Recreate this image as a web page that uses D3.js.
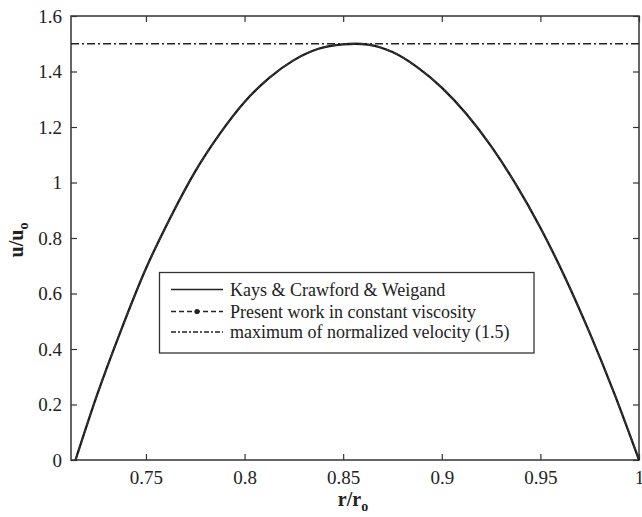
<!DOCTYPE html>
<html>
<head>
<meta charset="utf-8">
<script src="https://cdn.jsdelivr.net/npm/d3@7"></script>
<style>
  html, body { margin: 0; padding: 0; background: #fff; }
  svg { display: block; }
</style>
</head>
<body>
<svg id="chart" width="642" height="517"></svg>
<script>
// ---- Data ----
const rValues = [0.7143, 0.725, 0.7375, 0.75, 0.7625, 0.775, 0.7875, 0.80, 0.8125, 0.825, 0.8375, 0.85, 0.856, 0.8625, 0.875, 0.8875, 0.90, 0.9125, 0.925, 0.9375, 0.95, 0.9625, 0.975, 0.9875, 1.0];
const kaysValues = [0, 0.23, 0.47, 0.69, 0.875, 1.04, 1.176, 1.29, 1.377, 1.441, 1.482, 1.498, 1.500, 1.497, 1.47, 1.416, 1.342, 1.247, 1.131, 0.994, 0.837, 0.658, 0.458, 0.239, 0];
const presentValues = [0, 0.23, 0.47, 0.69, 0.874, 1.04, 1.175, 1.29, 1.377, 1.441, 1.482, 1.498, 1.500, 1.497, 1.47, 1.416, 1.342, 1.247, 1.131, 0.994, 0.837, 0.658, 0.458, 0.239, 0];
const maxVelocity = 1.5;
const xTicks = [0.75, 0.8, 0.85, 0.9, 0.95, 1];
const yTicks = [0, 0.2, 0.4, 0.6, 0.8, 1, 1.2, 1.4, 1.6];
const legendLabels = ["Kays & Crawford & Weigand", "Present work in constant viscosity", "maximum of normalized velocity (1.5)"];

// ---- Layout ----
(function () {
const FONT = "'Liberation Serif', 'Times New Roman', Times, 'Nimbus Roman', 'DejaVu Serif', serif";
const svg = d3.select("#chart");
const pL = 71, pR = 639, pT = 16, pB = 460;
const x = d3.scaleLinear().domain([0.712, 1]).range([pL, pR]);
const y = d3.scaleLinear().domain([0, 1.6]).range([pB, pT]);
const axisColor = "#333";

// frame
svg.append("rect").attr("x", pL).attr("y", pT).attr("width", pR - pL).attr("height", pB - pT)
  .attr("fill", "none").attr("stroke", axisColor).attr("stroke-width", 1.5);

function styleAxis(g) {
  g.attr("font-family", FONT);
  g.select(".domain").remove();
  g.selectAll(".tick line").attr("stroke", axisColor).attr("stroke-width", 1.2);
  g.selectAll(".tick text").style("font-family", FONT).attr("font-size", 19).attr("fill", "#222");
}
const fmt = d => d3.format("")(d);

svg.append("g").attr("transform", `translate(0,${pB})`)
  .call(d3.axisBottom(x).tickValues(xTicks).tickFormat(fmt).tickSizeInner(-6).tickPadding(11))
  .call(styleAxis);
svg.append("g").attr("transform", `translate(0,${pT})`)
  .call(d3.axisTop(x).tickValues(xTicks).tickFormat("").tickSizeInner(-6))
  .call(styleAxis);
svg.append("g").attr("transform", `translate(${pL},0)`)
  .call(d3.axisLeft(y).tickValues(yTicks).tickFormat(fmt).tickSizeInner(-6).tickPadding(9))
  .call(styleAxis);
svg.append("g").attr("transform", `translate(${pR},0)`)
  .call(d3.axisRight(y).tickValues(yTicks).tickFormat("").tickSizeInner(-6))
  .call(styleAxis);

// max line
svg.append("line").attr("x1", pL).attr("x2", pR).attr("y1", y(maxVelocity)).attr("y2", y(maxVelocity))
  .attr("stroke", "#222").attr("stroke-width", 1.5).attr("stroke-dasharray", "8,3,2,3");

// curves
const line = d3.line().x(d => x(d[0])).y(d => y(d[1])).curve(d3.curveMonotoneX);
svg.append("path").datum(rValues.map((r, i) => [r, kaysValues[i]]))
  .attr("d", line).attr("fill", "none").attr("stroke", "#1a1a1a").attr("stroke-width", 2.3);
svg.append("path").datum(rValues.map((r, i) => [r, presentValues[i]]))
  .attr("d", line).attr("fill", "none").attr("stroke", "#333").attr("stroke-width", 1.5).attr("stroke-dasharray", "6,3");

// legend
const lg = svg.append("g");
lg.append("rect").attr("x", 159.5).attr("y", 272.5).attr("width", 374.5).attr("height", 80.5)
  .attr("fill", "#fff").attr("stroke", axisColor).attr("stroke-width", 1.3);
const rowsY = [289.5, 311.5, 332];
const dashes = [null, "5,3", "5,2,2,2"];
legendLabels.forEach((lab, i) => {
  lg.append("line").attr("x1", 171).attr("x2", 223).attr("y1", rowsY[i]).attr("y2", rowsY[i])
    .attr("stroke", "#222").attr("stroke-width", 1.4).attr("stroke-dasharray", dashes[i]);
  if (i === 1) lg.append("circle").attr("cx", 197).attr("cy", rowsY[i]).attr("r", 2.6).attr("fill", "#222");
  lg.append("text").attr("x", 230).attr("y", rowsY[i]).attr("dy", "0.35em")
    .style("font-family", FONT).attr("font-size", 18).attr("fill", "#222").text(lab);
});

// axis titles
const xt = svg.append("text").attr("x", 353).attr("y", 506).attr("text-anchor", "middle")
  .style("font-family", FONT).attr("font-size", 20).attr("font-weight", "bold").attr("fill", "#222");
xt.append("tspan").text("r/r");
xt.append("tspan").attr("font-size", 14).attr("dy", 5).text("o");

const yt = svg.append("text").attr("transform", "translate(23,240) rotate(-90)").attr("text-anchor", "middle")
  .style("font-family", FONT).attr("font-size", 20).attr("font-weight", "bold").attr("fill", "#222");
yt.append("tspan").text("u/u");
yt.append("tspan").attr("font-size", 14).attr("dy", 5).text("o");
})();
</script>
</body>
</html>
